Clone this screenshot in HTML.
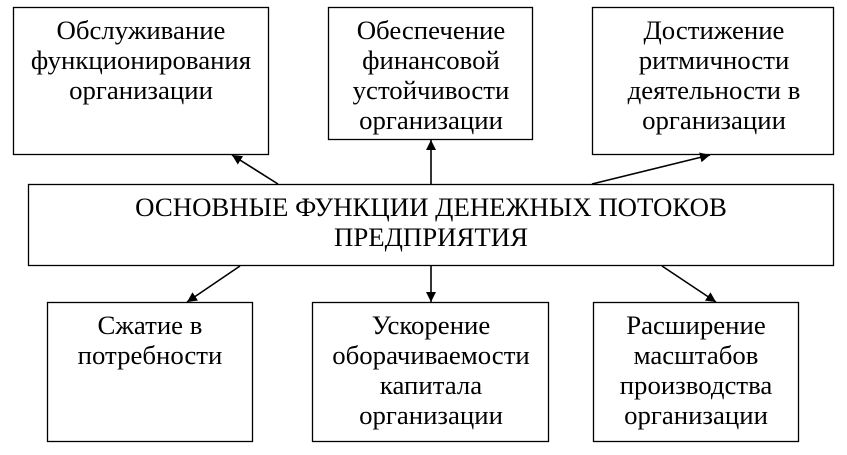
<!DOCTYPE html>
<html>
<head>
<meta charset="utf-8">
<style>
  html, body { margin:0; padding:0; background:#fff; }
  body { width:847px; height:455px; overflow:hidden; }
  svg { display:block; }
  text { font-family: "Liberation Serif", "Noto Serif CJK SC", serif; font-size:26.8px; fill:#000; text-anchor:middle; }
</style>
</head>
<body>
<svg width="847" height="455" viewBox="0 0 847 455" xmlns="http://www.w3.org/2000/svg">
  <defs>
    <marker id="ah" markerWidth="10" markerHeight="10" refX="10" refY="5" orient="auto" markerUnits="userSpaceOnUse">
      <path d="M0,0 L10,5 L0,10 Z" fill="#000"/>
    </marker>
  </defs>
  <g fill="#fff" stroke="#000" stroke-width="1.3">
    <rect x="13.5" y="7.5" width="255" height="147"/>
    <rect x="328.5" y="7.5" width="204" height="132"/>
    <rect x="592.5" y="7.5" width="241" height="147"/>
    <rect x="28.5" y="184.5" width="805" height="81"/>
    <rect x="47.5" y="302.5" width="205" height="139"/>
    <rect x="312.5" y="302.5" width="236" height="139"/>
    <rect x="593.5" y="302.5" width="205" height="139"/>
  </g>
  <g stroke="#000" stroke-width="1.6" fill="none" marker-end="url(#ah)">
    <line x1="278" y1="184" x2="232" y2="155"/>
    <line x1="431" y1="184" x2="431" y2="140"/>
    <line x1="592" y1="184" x2="710" y2="155"/>
    <line x1="240" y1="266" x2="187" y2="302"/>
    <line x1="431" y1="266" x2="431" y2="302"/>
    <line x1="662" y1="266" x2="716" y2="302"/>
  </g>
  <text x="141" y="39">Обслуживание</text>
  <text x="141" y="69">функционирования</text>
  <text x="141" y="99">организации</text>

  <text x="431" y="39">Обеспечение</text>
  <text x="431" y="69">финансовой</text>
  <text x="431" y="99">устойчивости</text>
  <text x="431" y="129">организации</text>

  <text x="714" y="39">Достижение</text>
  <text x="714" y="69">ритмичности</text>
  <text x="714" y="99">деятельности в</text>
  <text x="714" y="129">организации</text>

  <text x="431" y="216">ОСНОВНЫЕ ФУНКЦИИ ДЕНЕЖНЫХ ПОТОКОВ</text>
  <text x="431" y="246">ПРЕДПРИЯТИЯ</text>

  <text x="150" y="334">Сжатие в</text>
  <text x="150" y="364">потребности</text>

  <text x="431" y="334">Ускорение</text>
  <text x="431" y="364">оборачиваемости</text>
  <text x="431" y="394">капитала</text>
  <text x="431" y="424">организации</text>

  <text x="696" y="334">Расширение</text>
  <text x="696" y="364">масштабов</text>
  <text x="696" y="394">производства</text>
  <text x="696" y="424">организации</text>
</svg>
</body>
</html>
